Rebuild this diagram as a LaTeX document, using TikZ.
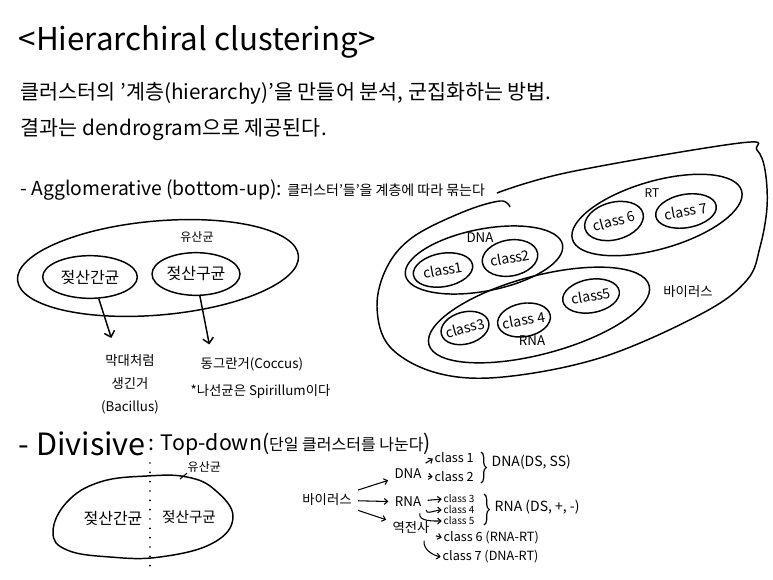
\documentclass[tikz,border=0pt]{standalone}
\usepackage{fontspec}
\setmainfont{Noto Sans CJK KR}
\usetikzlibrary{arrows.meta, positioning, shapes.geometric, decorations.pathreplacing}
\newcommand{\setfs}[1]{\fontsize{#1}{#1}\selectfont}

\begin{document}
\begin{tikzpicture}[
    x=0.75pt, y=-0.75pt,
    line width=1.1pt,
    txt/.style={inner sep=0pt, anchor=west},
    blob/.style={draw, ellipse, inner sep=-2pt, align=center},
    cls/.style={draw, ellipse, inner sep=-2pt, rotate=10, font=\setfs{10.5}},
    arr/.style={-{Straight Barb[length=4pt, width=8pt]}},
    tarr/.style={-{Straight Barb[length=2.5pt, width=4.5pt]}, line width=0.8pt, shorten <=1pt, shorten >=1pt},
    brc/.style={decorate, decoration={brace, amplitude=4pt}, line width=0.9pt}
]
\useasboundingbox (0,0) rectangle (773,580);
% heading
\node[txt, font=\setfs{23.5}] (title) at (18,42) {<Hierarchiral clustering>};
\node[txt, font=\setfs{15.5}] (def) at (20,93) {클러스터의 '계층(hierarchy)'을 만들어 분석, 군집화하는 방법.};
\node[txt, font=\setfs{15.5}] (res) at (20,130) {결과는 dendrogram으로 제공된다.};
% 1. Agglomerative
\node[txt, font=\setfs{14.5}] (agg) at (20,190) {- Agglomerative (bottom-up):};
\node[txt, font=\setfs{10.5}, right=3pt of agg] (aggk) {클러스터'들'을 계층에 따라 묶는다};
% left example
\draw[rotate around={5:(158,268)}] (158,268) ellipse [x radius=141, y radius=47];
\node[font=\setfs{9}] (yu1) at (197,237) {유산균};
\node[blob, minimum width=71pt, minimum height=32pt, font=\setfs{12}] (gan1) at (90,277) {젖산간균};
\node[blob, minimum width=66pt, minimum height=32pt, font=\setfs{12}] (gu1) at (196,274) {젖산구균};
\node[align=center, anchor=north, inner sep=0pt, font=\fontsize{10}{17}\selectfont] (bac) at (130,354) {막대처럼\\생긴거\\(Bacillus)};
\node[txt, font=\setfs{10}] (coc) at (200,364) {동그란거(Coccus)};
\node[txt, font=\setfs{10}] (spi) at (190,392) {*나선균은 Spirillum이다};
\draw[arr] (gan1.-68) -- ([xshift=-14pt, yshift=12pt]bac.north);
\draw[arr] (gu1.-80) -- ([xshift=7pt, yshift=9pt]coc.north west);
% right example
\draw plot[smooth, tension=0.6] coordinates {(497,193) (570,172) (740,143) (757,150) (765,170) (767,207) (760,247) (747,280) (703,313) (603,357) (503,377) (437,373) (390,347) (377,307) (387,267) (413,237) (463,212) (500,201) (510,207)};
\draw[rotate around={11:(484,260)}] (484,260) ellipse [x radius=80, y radius=31];
\draw[rotate around={16:(657,215)}] (657,215) ellipse [x radius=88, y radius=34];
\draw[rotate around={15:(539,315)}] (539,315) ellipse [x radius=114, y radius=39];
\node[font=\setfs{10}] (dna1) at (480,238) {DNA};
\node[font=\setfs{9}] (rt1) at (652,193) {RT};
\node[font=\setfs{10}] (rna1) at (532,341) {RNA};
\node[font=\setfs{10}] (vir1) at (688,292) {바이러스};
\node[cls, minimum width=45pt, minimum height=25pt] (c1) at (443,270) {class1};
\node[cls, minimum width=42pt, minimum height=27pt] (c2) at (510,258) {class2};
\node[cls, minimum width=35pt, minimum height=24pt, rotate=5] (c3) at (465,328) {class3};
\node[cls, minimum width=39pt, minimum height=25pt] (c4) at (524,320) {class 4};
\node[cls, minimum width=43pt, minimum height=25pt] (c5) at (591,296) {class5};
\node[cls, minimum width=45pt, minimum height=28pt, rotate=5] (c6) at (614,221) {class 6};
\node[cls, minimum width=46pt, minimum height=25pt] (c7) at (686,211) {class 7};
% 2. Divisive
\node[txt, font=\setfs{23}] (div) at (18,444) {- Divisive};
\node[txt, font=\setfs{16}, right=1pt of div] (tdn) {: Top-down({\setfs{12}단일 클러스터를 나눈다})};
\draw plot[smooth cycle, tension=0.7] coordinates {(147,476) (100,482) (67,502) (53,532) (67,550) (110,557) (160,557) (213,543) (233,517) (215,490) (187,477)};
\draw[line width=1.4pt, line cap=round, dash pattern=on 0pt off 7pt] (150,463) -- (150,575);
\node[txt, font=\setfs{9}] (yu2) at (187,467) {유산균};
\coordinate (tick) at (180,479);
\draw[line width=0.8pt] (tick) -- (yu2.south west);
\node[font=\setfs{12}] (gan2) at (113,518) {젖산간균};
\node[font=\setfs{11}] (gu2) at (189,517) {젖산구균};
% virus tree
\node[font=\setfs{10}] (vir2) at (327,500) {바이러스};
\node[font=\setfs{10}] (dna2) at (408,474) {DNA};
\node[font=\setfs{10}] (rna2) at (408,502) {RNA};
\node[font=\setfs{10}] (rt2) at (411,528) {역전사};
\node[txt, font=\setfs{9.5}] (t1) at (434,458) {class 1};
\node[txt, font=\setfs{9.5}] (t2) at (434,477) {class 2};
\node[txt, font=\setfs{7.5}] (t3) at (443,499) {class 3};
\node[txt, font=\setfs{7.5}] (t4) at (443,510) {class 4};
\node[txt, font=\setfs{7.5}] (t5) at (443,521) {class 5};
\node[txt, font=\setfs{9.5}] (t6) at (443,538) {class 6 (RNA-RT)};
\node[txt, font=\setfs{9.5}] (t7) at (442,557) {class 7 (DNA-RT)};
\coordinate (b1top) at (481,452);
\coordinate (b1bot) at (481,483);
\coordinate (b2top) at (484,494);
\coordinate (b2bot) at (484,525);
\draw[brc] (b1top) -- (b1bot);
\draw[brc] (b2top) -- (b2bot);
\node[txt, font=\setfs{10.5}] (dnat) at (491,462) {DNA(DS, SS)};
\node[txt, font=\setfs{10.5}] (rnat) at (494,507) {RNA (DS, +, -)};
\draw[tarr] (vir2) -- (dna2);
\draw[tarr] (vir2) -- (rna2);
\draw[tarr] (vir2) -- (rt2);
\draw[tarr] (dna2) -- (t1.west);
\draw[tarr] (dna2) -- (t2.west);
\draw[tarr] (rna2) -- (t3.west);
\draw[tarr] (rna2.-20) to[out=-100, in=180] (t4.west);
\draw[tarr] (rna2.-40) to[out=-100, in=180] (t5.west);
\draw[tarr] (rt2) -- (t6.west);
\draw[tarr] (rt2.-40) to[out=-100, in=170] (t7.west);
\end{tikzpicture}
\end{document}
